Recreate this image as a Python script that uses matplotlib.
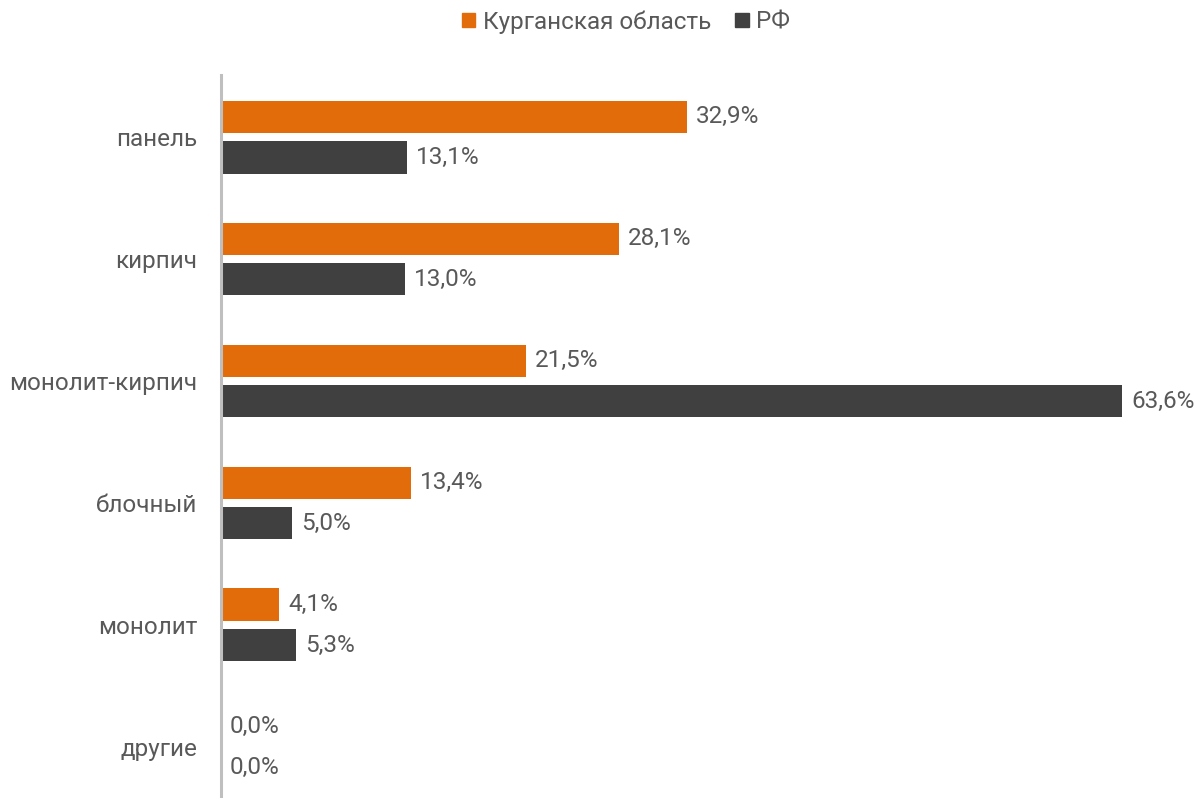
import matplotlib
matplotlib.use("Agg")
import matplotlib.pyplot as plt
import numpy as np
from matplotlib.patches import Patch

plt.rcParams['font.family'] = ['Roboto', 'DejaVu Sans']

categories = ["панель", "кирпич", "монолит-кирпич", "блочный", "монолит", "другие"]
kurgan = [32.9, 28.1, 21.5, 13.4, 4.1, 0.0]
rf = [13.1, 13.0, 63.6, 5.0, 5.3, 0.0]
series_names = ["Курганская область", "РФ"]

ORANGE = "#E36C0A"
DARK = "#404040"
TEXT = "#595959"
FS = 17.5

fig = plt.figure(figsize=(11.97, 7.98), dpi=100)
ax = fig.add_axes([221/1197, 0.0, (66*14.17)/1197, 1 - 75/798])

y = np.arange(len(categories))
h = 0.265
off = 0.166
ax.barh(y - off, kurgan, height=h, color=ORANGE)
ax.barh(y + off, rf, height=h, color=DARK)

for yi, v in zip(y, kurgan):
    ax.annotate(f"{v:.1f}%".replace(".", ","), (v, yi - off), xytext=(6.5, 0),
                textcoords="offset points", va="center", ha="left",
                fontsize=FS, color=TEXT)
for yi, v in zip(y, rf):
    ax.annotate(f"{v:.1f}%".replace(".", ","), (v, yi + off), xytext=(6.5, 0),
                textcoords="offset points", va="center", ha="left",
                fontsize=FS, color=TEXT)

ax.set_xlim(0, 66)
ax.set_ylim(5.42, -0.51)
ax.set_yticks(y)
ax.set_yticklabels(categories, fontsize=FS, color=TEXT)
ax.tick_params(axis='y', length=0, pad=17)
ax.set_xticks([])
for s in ["top", "right", "bottom"]:
    ax.spines[s].set_visible(False)
ax.spines["left"].set_color("#BFBFBF")
ax.spines["left"].set_linewidth(2.2)

handles = [Patch(color=ORANGE), Patch(color=DARK)]
fig.legend(handles, series_names, loc="center", bbox_to_anchor=(626/1197, 1 - 22/798),
           ncol=2, frameon=False, fontsize=FS, labelcolor=TEXT,
           handlelength=0.55, handleheight=0.55, handletextpad=0.3, columnspacing=1.0)

fig.savefig("out.png", dpi=100)
